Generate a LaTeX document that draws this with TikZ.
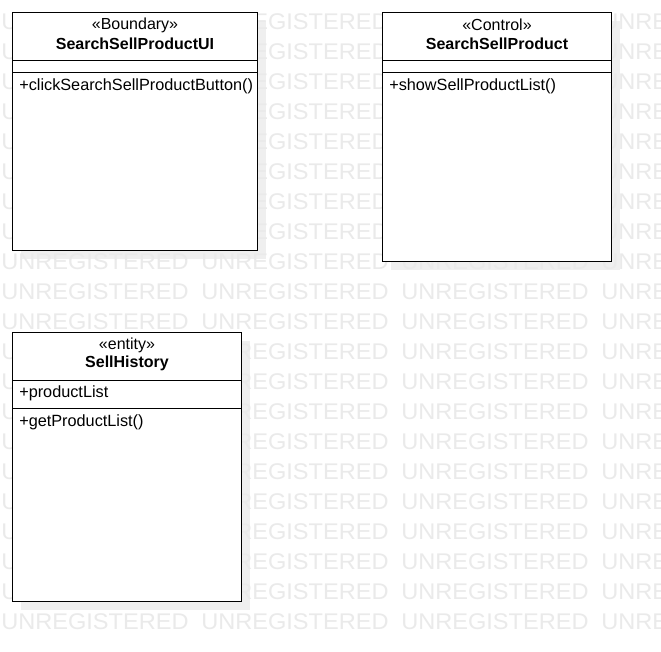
\documentclass[tikz,border=0pt]{standalone}
\usepackage{fontspec}
\setmainfont{Liberation Sans}
\usetikzlibrary{positioning}
\definecolor{wmgray}{HTML}{EAEAEA}
\definecolor{shadegray}{HTML}{EFEFEF}

\begin{document}
\begin{tikzpicture}[x=0.75pt,y=-0.75pt,
  umlbox/.style={draw=black,fill=white,line width=0.75pt},
  boxshade/.style={fill=shadegray,draw=none},
  wmtext/.style={anchor=west,inner sep=0pt,text=wmgray,font=\fontsize{17pt}{17pt}\selectfont,xscale=1.04},
  stereo/.style={inner sep=0pt,font=\fontsize{12pt}{14pt}\selectfont},
  classname/.style={inner sep=0pt,font=\fontsize{12pt}{14pt}\selectfont\bfseries},
  member/.style={anchor=west,inner sep=0pt,font=\fontsize{12.2pt}{14pt}\selectfont}]
\useasboundingbox (0,0) rectangle (661,651);
\clip (0,0) rectangle (661,651);
\fill[white] (0,0) rectangle (661,651);
% shadows
\fill[boxshade] (20.5,20.5) rectangle (265.5,258.5);
\fill[boxshade] (390.5,20.5) rectangle (619.5,269.5);
\fill[boxshade] (20.5,340.5) rectangle (249.5,609.5);
% watermark
\foreach \row in {0,...,20}
  \foreach \col in {0,...,3}
    \node[wmtext] (wm-\row-\col) at (1+200*\col,22+30*\row) {UNREGISTERED};
% boundary
\draw[umlbox] (12.5,12.5) rectangle (257.5,250.5);
\draw[line width=0.75pt] (12.5,60.5) -- (257.5,60.5);
\draw[line width=0.75pt] (12.5,72.5) -- (257.5,72.5);
\node[stereo] (uiSt) at (135,25) {«Boundary»};
\node[classname] (uiName) at (135,43.5) {SearchSellProductUI};
\node[member] (uiOp) at (19,86) {+clickSearchSellProductButton()};
% control
\draw[umlbox] (382.5,12.5) rectangle (611.5,261.5);
\draw[line width=0.75pt] (382.5,60.5) -- (611.5,60.5);
\draw[line width=0.75pt] (382.5,72.5) -- (611.5,72.5);
\node[stereo] (ctlSt) at (497,25) {«Control»};
\node[classname] (ctlName) at (497,43.5) {SearchSellProduct};
\node[member] (ctlOp) at (389,86) {+showSellProductList()};
% entity
\draw[umlbox] (12.5,332.5) rectangle (241.5,601.5);
\draw[line width=0.75pt] (12.5,380.5) -- (241.5,380.5);
\draw[line width=0.75pt] (12.5,408.5) -- (241.5,408.5);
\node[stereo] (entSt) at (127,345) {«entity»};
\node[classname] (entName) at (127,363.5) {SellHistory};
\node[member] (entAttr) at (19,393) {+productList};
\node[member] (entOp) at (19,422) {+getProductList()};
\end{tikzpicture}
\end{document}
